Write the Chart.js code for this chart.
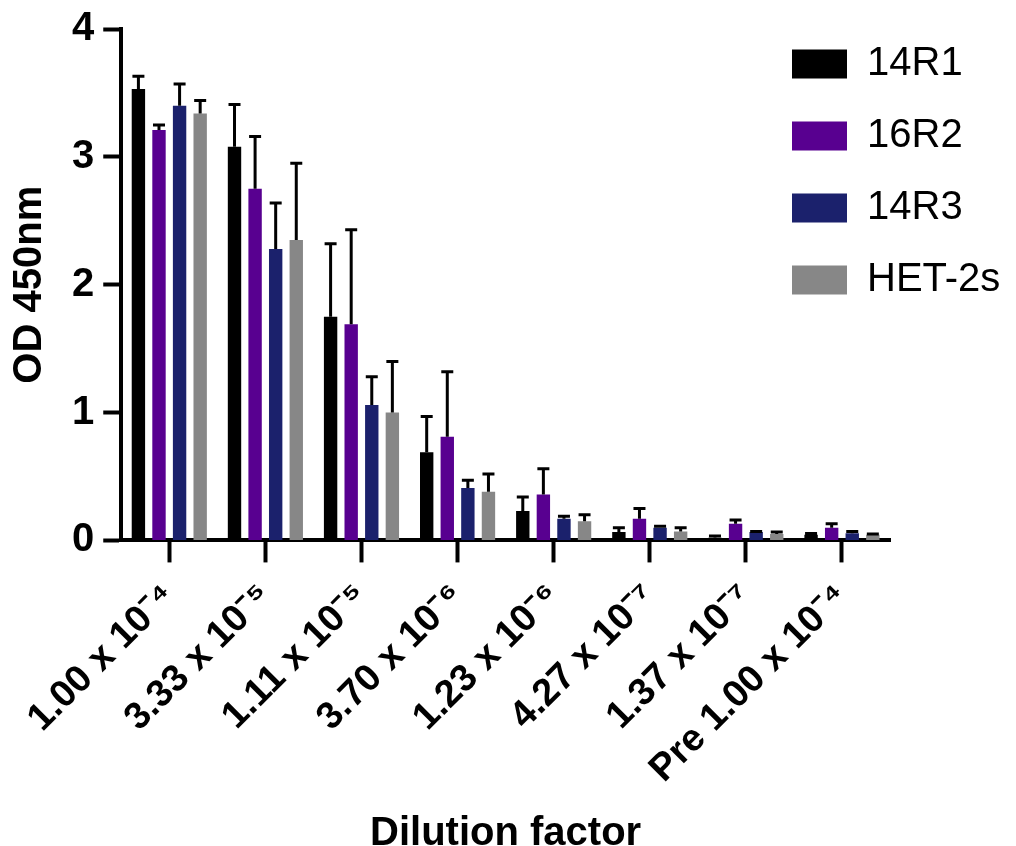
<!DOCTYPE html>
<html>
<head>
<meta charset="utf-8">
<script src="https://cdn.jsdelivr.net/npm/chart.js@4/dist/chart.umd.min.js"></script>
<style>
  body { margin: 0; background: #fff; }
  #wrap { width: 1016px; height: 846px; }
</style>
</head>
<body>
<div id="wrap"><canvas id="myChart"></canvas></div>
<script>
// dilution categories (x axis)
const dilutions = [
    '1.00 x 10⁻⁴', '3.33 x 10⁻⁵', '1.11 x 10⁻⁵', '3.70 x 10⁻⁶',
    '1.23 x 10⁻⁶', '4.27 x 10⁻⁷', '1.37 x 10⁻⁷', 'Pre 1.00 x 10⁻⁴'
];

// mean OD 450nm per serum, and upper error (SD)
const od14R1 = [3.53, 3.08, 1.75, 0.69, 0.23, 0.065, 0.02, 0.045];
const sd14R1 = [0.10, 0.33, 0.57, 0.28, 0.11, 0.035, 0.015, 0.01];

const od16R2 = [3.21, 2.75, 1.69, 0.81, 0.36, 0.17, 0.13, 0.10];
const sd16R2 = [0.04, 0.41, 0.74, 0.51, 0.20, 0.08, 0.03, 0.03];

const od14R3 = [3.40, 2.28, 1.06, 0.41, 0.17, 0.10, 0.065, 0.057];
const sd14R3 = [0.17, 0.36, 0.22, 0.06, 0.02, 0.01, 0.005, 0.013];

const odHET = [3.34, 2.35, 1.00, 0.38, 0.15, 0.07, 0.05, 0.045];
const sdHET = [0.10, 0.60, 0.40, 0.14, 0.05, 0.03, 0.015, 0.005];

const yTicks = [0, 1, 2, 3, 4];

Chart.defaults.font.family = "'Liberation Sans', Arial, Helvetica, sans-serif";
Chart.defaults.color = '#000';

// draws the upper error bar with a cap on every bar
const errorBars = {
    id: 'errorBars',
    afterDatasetsDraw(chart) {
        const ctx = chart.ctx;
        const yScale = chart.scales.y;
        ctx.save();
        ctx.strokeStyle = '#000';
        ctx.lineWidth = 3;
        chart.data.datasets.forEach((ds, i) => {
            const meta = chart.getDatasetMeta(i);
            meta.data.forEach((bar, j) => {
                const top = yScale.getPixelForValue(ds.data[j] + ds.errors[j]);
                ctx.beginPath();
                ctx.moveTo(bar.x, bar.y);
                ctx.lineTo(bar.x, top);
                ctx.moveTo(bar.x - 6, top);
                ctx.lineTo(bar.x + 6, top);
                ctx.stroke();
            });
        });
        ctx.restore();
    }
};

// legend sits inside the plot, top right
const legendInside = {
    id: 'legendInside',
    afterLayout(chart) {
        const lg = chart.legend;
        const area = chart.chartArea;
        lg.left = area.right - 130;
        lg.right = lg.left + lg.width;
        lg.top = area.top - 17;
        lg.bottom = lg.top + lg.height;
    }
};

const ctx = document.getElementById('myChart').getContext('2d');

new Chart(ctx, {
    type: 'bar',
    data: {
        labels: dilutions,
        datasets: [
            { label: '14R1', data: od14R1, errors: sd14R1, backgroundColor: '#000000' },
            { label: '16R2', data: od16R2, errors: sd16R2, backgroundColor: '#580090' },
            { label: '14R3', data: od14R3, errors: sd14R3, backgroundColor: '#1b216c' },
            { label: 'HET-2s', data: odHET, errors: sdHET, backgroundColor: '#878787' }
        ]
    },
    options: {
        responsive: true,
        maintainAspectRatio: false,
        animation: false,
        datasets: {
            bar: { categoryPercentage: 0.857, barPercentage: 0.65, borderWidth: 0 }
        },
        layout: { padding: { left: 0, right: 126, top: 21, bottom: 0 } },
        plugins: {
            tooltip: { enabled: false },
            legend: {
                position: 'chartArea',
                align: 'start',
                labels: {
                    boxWidth: 55,
                    boxHeight: 29,
                    padding: 32,
                    color: '#000',
                    font: { size: 40 }
                }
            }
        },
        scales: {
            x: {
                z: 1,
                ticks: {
                    autoSkip: false,
                    minRotation: 45,
                    maxRotation: 45,
                    padding: 12,
                    color: '#000',
                    font: { size: 38, weight: 'bold' }
                },
                grid: {
                    offset: false,
                    drawOnChartArea: false,
                    tickLength: 22,
                    tickWidth: 4,
                    tickColor: '#000'
                },
                border: { display: true, width: 4, color: '#000' },
                title: {
                    display: true,
                    text: 'Dilution factor',
                    color: '#000',
                    font: { size: 40, weight: 'bold', lineHeight: 0.6 },
                    padding: { top: 18, bottom: 0 }
                }
            },
            y: {
                z: 1,
                min: yTicks[0],
                max: yTicks[yTicks.length - 1],
                afterBuildTicks(scale) {
                    scale.ticks = yTicks.map(v => ({ value: v }));
                },
                ticks: {
                    padding: 9,
                    color: '#000',
                    font: { size: 40, weight: 'bold', lineHeight: 1.0 }
                },
                grid: {
                    drawOnChartArea: false,
                    tickLength: 18,
                    tickWidth: 4,
                    tickColor: '#000'
                },
                border: { display: true, width: 4, color: '#000' },
                title: {
                    display: true,
                    text: 'OD 450nm',
                    color: '#000',
                    font: { size: 40, weight: 'bold' },
                    padding: { top: 6, bottom: 9 }
                }
            }
        }
    },
    plugins: [errorBars, legendInside]
});
</script>
</body>
</html>
